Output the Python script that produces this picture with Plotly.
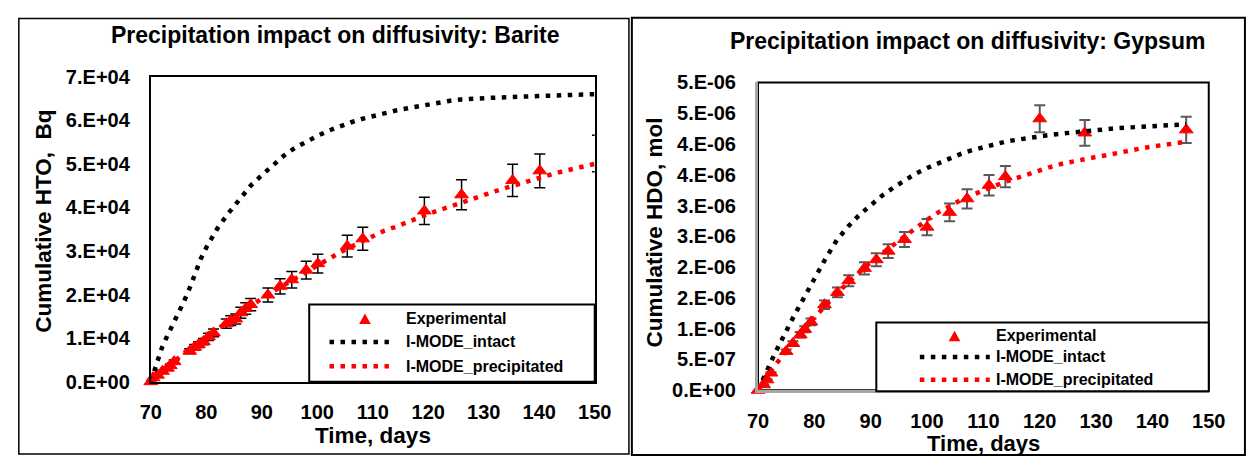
import plotly.graph_objects as go

# ---------------- data: Barite (left panel) ----------------
barite_exp_days = [70, 70.4, 71.2, 72.1, 73.0, 73.5, 74.2, 77.0, 77.9, 78.6, 79.5, 80.4, 81.3,
                   83.6, 84.4, 85.3, 86.2, 87.1, 88.0, 91.1, 93.3, 95.4, 98.0, 100.1, 105.4,
                   108.2, 119.3, 126.0, 135.2, 140.1, 150.5]
barite_exp_hto = [0, 900, 1500, 2400, 3100, 3700, 4600, 7000, 7900, 8500, 9200, 10300, 11200,
                  13300, 14000, 14400, 15800, 16800, 17700, 19900, 21900, 23400, 25600, 27100, 31100,
                  32800, 39200, 42900, 46200, 48400, 52400]

barite_intact_days = [70, 71, 72, 73, 74, 75, 76, 77, 78, 79, 80, 82, 84, 86, 88, 90, 92, 94, 96, 98,
                      100, 102, 104, 106, 108, 110, 112, 114, 116, 118, 120, 122, 124, 126, 128, 130,
                      132, 134, 136, 138, 140, 142, 144, 146, 148, 150]
barite_intact_hto = [0, 4000, 7800, 10600, 13200, 15700, 18500, 21500, 25000, 28200, 30800, 35200,
                     38700, 42000, 45000, 47400, 49800, 51900, 53700, 55200, 56400, 57600, 58600,
                     59500, 60300, 61000, 61700, 62200, 62700, 63200, 63700, 64100, 64500, 64800,
                     65000, 65100, 65200, 65300, 65400, 65500, 65600, 65700, 65800, 65900, 65900, 66000]

barite_precip_days = [70, 72, 74, 76, 78, 80, 82, 84, 86, 88, 90, 92, 94, 96, 98, 100, 102, 104, 106,
                      108, 110, 112, 114, 116, 118, 120, 122, 124, 126, 128, 130, 132, 134, 136, 138,
                      140, 142, 144, 146, 148, 150]
barite_precip_hto = [0, 2200, 4500, 6600, 8500, 10300, 12200, 14000, 15700, 17500, 19100, 20700,
                     22200, 23800, 25300, 26700, 28200, 29600, 30900, 32200, 33500, 34600, 35500,
                     36400, 37500, 38500, 39400, 40300, 41200, 42000, 42900, 43700, 44500, 45300,
                     46100, 46800, 47500, 48200, 48800, 49400, 50000]

# ---------------- data: Gypsum (right panel) ----------------
gypsum_exp_days = [70, 71.0, 71.6, 72.3, 75.0, 76.2, 77.5, 78.3, 79.4, 81.8, 84.1, 86.1, 88.9, 91.0,
                   93.1, 96.0, 100.0, 104.0, 107.1, 111.0, 113.9, 120.0, 128.0, 146.0]
gypsum_exp_hdo = [0, 0.09e-6, 0.17e-6, 0.28e-6, 0.63e-6, 0.76e-6, 0.90e-6, 0.99e-6, 1.11e-6,
                  1.39e-6, 1.59e-6, 1.78e-6, 1.98e-6, 2.12e-6, 2.26e-6, 2.45e-6, 2.65e-6, 2.89e-6,
                  3.11e-6, 3.33e-6, 3.47e-6, 4.41e-6, 4.18e-6, 4.23e-6]

gypsum_intact_days = [70, 71, 72, 73, 74, 75, 76, 77, 78, 79, 80, 82, 84, 86, 88, 90, 92, 94, 96, 98,
                      100, 102, 104, 106, 108, 110, 112, 114, 116, 118, 120, 122, 124, 126, 128, 130,
                      132, 134, 136, 138, 140, 142, 144, 146]
gypsum_intact_hdo = [0, 0.18e-6, 0.40e-6, 0.60e-6, 0.79e-6, 0.97e-6, 1.14e-6, 1.31e-6, 1.48e-6,
                     1.65e-6, 1.82e-6, 2.14e-6, 2.44e-6, 2.66e-6, 2.85e-6, 3.01e-6, 3.16e-6, 3.29e-6,
                     3.41e-6, 3.52e-6, 3.61e-6, 3.69e-6, 3.77e-6, 3.84e-6, 3.90e-6, 3.95e-6, 4.00e-6,
                     4.04e-6, 4.07e-6, 4.10e-6, 4.12e-6, 4.15e-6, 4.17e-6, 4.19e-6, 4.21e-6, 4.23e-6,
                     4.24e-6, 4.26e-6, 4.27e-6, 4.28e-6, 4.29e-6, 4.30e-6, 4.31e-6, 4.32e-6]

gypsum_precip_days = [70, 72, 74, 76, 78, 80, 82, 84, 86, 88, 90, 92, 94, 96, 98, 100, 102, 104, 106,
                      108, 110, 112, 114, 116, 118, 120, 122, 124, 126, 128, 130, 132, 134, 136, 138,
                      140, 142, 144, 145.5]
gypsum_precip_hdo = [0, 0.28e-6, 0.52e-6, 0.76e-6, 0.98e-6, 1.18e-6, 1.38e-6, 1.57e-6, 1.75e-6,
                     1.92e-6, 2.08e-6, 2.22e-6, 2.36e-6, 2.50e-6, 2.64e-6, 2.77e-6, 2.89e-6, 3.00e-6,
                     3.09e-6, 3.17e-6, 3.25e-6, 3.32e-6, 3.39e-6, 3.45e-6, 3.52e-6, 3.58e-6, 3.63e-6,
                     3.68e-6, 3.72e-6, 3.76e-6, 3.79e-6, 3.82e-6, 3.86e-6, 3.89e-6, 3.93e-6, 3.96e-6,
                     3.98e-6, 4.01e-6, 4.03e-6]

# ---------------- ticks / labels ----------------
x_ticks = [70, 80, 90, 100, 110, 120, 130, 140, 150]
left_y_ticks = [0, 1e4, 2e4, 3e4, 4e4, 5e4, 6e4, 7e4]
left_y_text = ["0.E+00", "1.E+04", "2.E+04", "3.E+04", "4.E+04", "5.E+04", "6.E+04", "7.E+04"]
right_y_ticks = [0, 0.5e-6, 1e-6, 1.5e-6, 2e-6, 2.5e-6, 3e-6, 3.5e-6, 4e-6, 4.5e-6, 5e-6]
right_y_text = ["0.E+00", "5.E-07", "1.E-06", "2.E-06", "2.E-06", "3.E-06", "3.E-06",
                "4.E-06", "4.E-06", "5.E-06", "5.E-06"]

series_names = ["Experimental", "I-MODE_intact", "I-MODE_precipitated"]
titles = ["Precipitation impact on diffusivity: Barite", "Precipitation impact on diffusivity: Gypsum"]
y_titles = ["Cumulative HTO,  Bq", "Cumulative HDO, mol"]
x_title = "Time, days"

# ---------------- geometry helpers (page pixels -> paper) ----------------
W, H = 1259, 467
def PX(x):
    return x / W
def PY(y):
    return 1 - y / H

FONT = "Arial, 'Liberation Sans', Helvetica, sans-serif"
DOT = "4.5px,6.5px"
LW = 4.5
RED = "#ff0000"

fig = go.Figure()

# left panel
fig.add_trace(go.Scatter(
    x=barite_exp_days, y=barite_exp_hto, mode="markers", name=series_names[0],
    marker=dict(symbol="triangle-up", size=12, color=RED, line=dict(color=RED, width=1),
                opacity=[1] * (len(barite_exp_days) - 1) + [0]),
    error_y=dict(type="percent", value=8, color="black", thickness=1.5, width=5.5),
    cliponaxis=False, xaxis="x", yaxis="y", showlegend=False))
fig.add_trace(go.Scatter(
    x=barite_intact_days, y=barite_intact_hto, mode="lines", name=series_names[1],
    line=dict(color="black", width=LW, dash=DOT), xaxis="x", yaxis="y", showlegend=False))
fig.add_trace(go.Scatter(
    x=barite_precip_days, y=barite_precip_hto, mode="lines", name=series_names[2],
    line=dict(color=RED, width=LW, dash=DOT), xaxis="x", yaxis="y", showlegend=False))

# right panel
fig.add_trace(go.Scatter(
    x=gypsum_exp_days, y=gypsum_exp_hdo, mode="markers", name=series_names[0],
    marker=dict(symbol="triangle-up", size=12, color=RED, line=dict(color=RED, width=1)),
    error_y=dict(type="percent", value=5, color="#595959", thickness=2, width=5.5),
    cliponaxis=False, xaxis="x2", yaxis="y2", showlegend=False))
fig.add_trace(go.Scatter(
    x=gypsum_intact_days, y=gypsum_intact_hdo, mode="lines", name=series_names[1],
    line=dict(color="black", width=LW, dash=DOT), xaxis="x2", yaxis="y2", showlegend=False))
fig.add_trace(go.Scatter(
    x=gypsum_precip_days, y=gypsum_precip_hdo, mode="lines", name=series_names[2],
    line=dict(color=RED, width=LW, dash=DOT), xaxis="x2", yaxis="y2", showlegend=False))

tickfont = dict(family=FONT, size=20, color="black", weight="bold")

common_x = dict(range=[70, 150], tickvals=x_ticks, showgrid=False, zeroline=False,
                ticks="", tickfont=tickfont, ticklabelstandoff=11, fixedrange=True)
common_y = dict(showgrid=False, zeroline=False, ticks="", tickfont=tickfont,
                ticklabelstandoff=15, fixedrange=True)

fig.update_layout(
    width=W, height=H, margin=dict(l=0, r=0, t=0, b=0), autosize=False,
    paper_bgcolor="white", plot_bgcolor="white", showlegend=False,
    xaxis=dict(domain=[PX(143), PX(597)], anchor="y", showline=True, linecolor="black",
               linewidth=2, mirror=True, **common_x),
    yaxis=dict(domain=[PY(389), PY(69)], anchor="x", range=[0, 7e4], tickvals=left_y_ticks,
               ticktext=left_y_text, showline=True, linecolor="black", linewidth=2, mirror=True,
               **common_y),
    xaxis2=dict(domain=[PX(764), PX(1225)], anchor="y2", showline=True, linecolor="#a6a6a6",
                linewidth=3, **common_x),
    yaxis2=dict(domain=[PY(398), PY(75)], anchor="x2", range=[0, 5e-6], tickvals=right_y_ticks,
                ticktext=right_y_text, showline=True, linecolor="#a6a6a6", linewidth=3,
                **common_y),
)

# ---------------- frames and legend boxes ----------------
def tri_path(cx, cy, w, h):
    return "M{:.4f},{:.4f} L{:.4f},{:.4f} L{:.4f},{:.4f} Z".format(
        PX(cx - w / 2), PY(cy + h / 2), PX(cx + w / 2), PY(cy + h / 2), PX(cx), PY(cy - h / 2))

shapes = [
    dict(type="rect", xref="paper", yref="paper", x0=PX(8), x1=PX(632), y0=PY(465), y1=PY(8),
         line=dict(color="black", width=1.5), layer="below"),
    dict(type="rect", xref="paper", yref="paper", x0=PX(635), x1=PX(1262), y0=PY(466), y1=PY(7),
         line=dict(color="black", width=2), layer="below"),
    dict(type="rect", xref="x2 domain", yref="y2 domain", x0=0, x1=1, y0=0, y1=1,
         line=dict(color="black", width=2), layer="below"),
]

# legend layout (page pixels): box, symbol column, text column, row centres
legend_specs = [
    dict(box=(305, 308, 597, 389), tri=(362, 323), line=(325.75, 386.5), text_x=402,
         rows=(323, 347.3, 372.7)),
    dict(box=(885, 327, 1225, 399), tri=(965, 341), line=(929.5, 1001), text_x=1005,
         rows=(341, 363, 387)),
]
ann = []
for spec in legend_specs:
    bx0, by0, bx1, by1 = spec["box"]
    shapes.append(dict(type="rect", xref="paper", yref="paper", x0=PX(bx0), x1=PX(bx1),
                       y0=PY(by1), y1=PY(by0), line=dict(color="black", width=2),
                       fillcolor="white", layer="above"))
    shapes.append(dict(type="path", xref="paper", yref="paper",
                       path=tri_path(spec["tri"][0], spec["tri"][1], 12, 11),
                       fillcolor=RED, line=dict(width=0), layer="above"))
    for row, col in ((1, "black"), (2, RED)):
        shapes.append(dict(type="line", xref="paper", yref="paper",
                           x0=PX(spec["line"][0]), x1=PX(spec["line"][1]),
                           y0=PY(spec["rows"][row]), y1=PY(spec["rows"][row]),
                           line=dict(color=col, width=LW, dash=DOT), layer="above"))
    for row in range(3):
        ann.append(dict(text=series_names[row], x=PX(spec["text_x"]), y=PY(spec["rows"][row]),
                        xref="paper", yref="paper", showarrow=False, xanchor="left",
                        yanchor="middle",
                        font=dict(family=FONT, size=16, color="black", weight="bold")))
fig.update_layout(shapes=shapes)

def label(text, x, y, size, angle=0):
    return dict(text=text, x=PX(x), y=PY(y), xref="paper", yref="paper", showarrow=False,
                textangle=angle, xanchor="center", yanchor="middle",
                font=dict(family=FONT, size=size, color="black", weight="bold"))

ann.append(label(titles[0], 332, 25, 23))
ann.append(label(titles[1], 978, 31, 23))
ann.append(label(y_titles[0], 33, 221, 22.5, -90))
ann.append(label(y_titles[1], 658, 232, 22.5, -90))
ann.append(label(x_title, 370, 445, 22.5))
ann.append(label(x_title, 995, 454, 22))
fig.update_layout(annotations=ann)

fig.write_html("out.html",
               config={"displayModeBar": False, "staticPlot": True},
               post_script="document.body.style.margin='0';"
                           "document.documentElement.style.overflow='hidden';"
                           "document.body.style.overflow='hidden';")
